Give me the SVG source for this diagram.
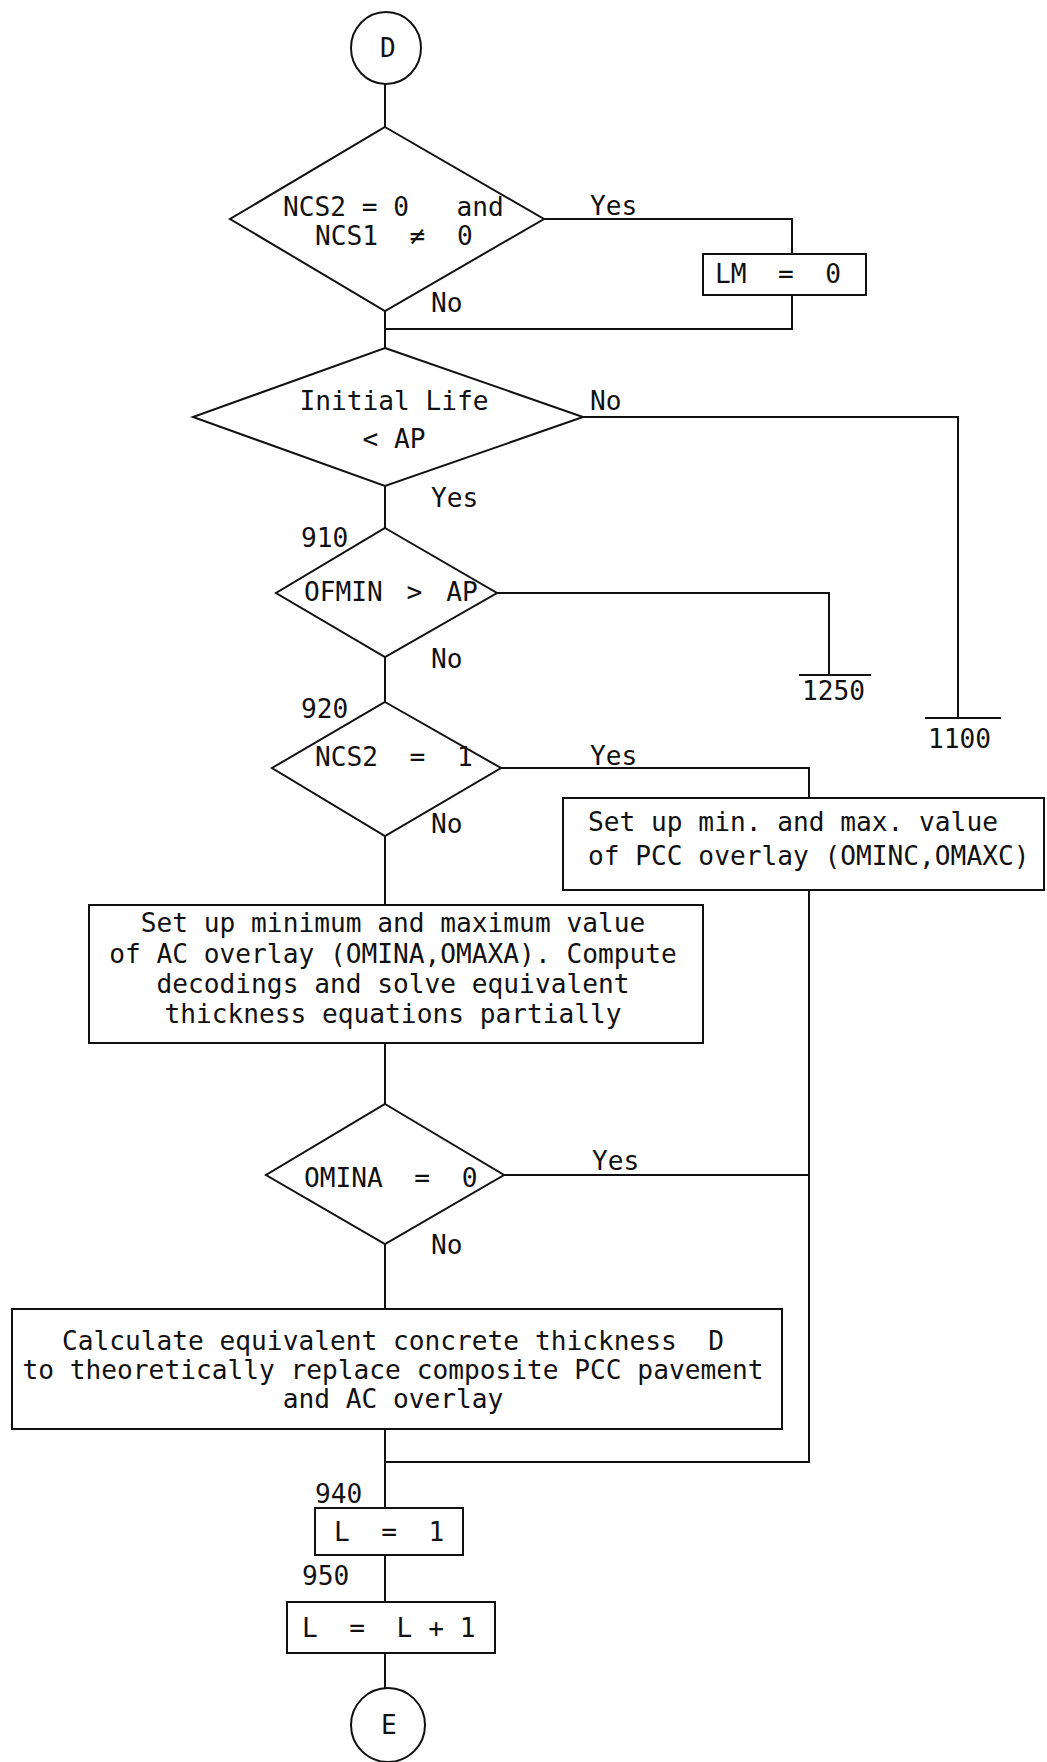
<svg xmlns="http://www.w3.org/2000/svg" width="1047" height="1762" viewBox="0 0 1047 1762">
<style>
  .s { fill: none; stroke: #111; stroke-width: 2; }
  .n { fill: #fff; stroke: #111; stroke-width: 2; }
  text { font-family: "DejaVu Sans Mono", "Liberation Mono", monospace; font-size: 26.2px; fill: #111; white-space: pre; }
  .c { text-anchor: middle; }
</style>
<rect width="1047" height="1762" fill="#fff"/>
<g id="connectors" class="s">
  <line x1="385" y1="84" x2="385" y2="127"/>
  <polyline points="544,219 792,219 792,254"/>
  <polyline points="792,295 792,329 385,329"/>
  <line x1="385" y1="311" x2="385" y2="348"/>
  <polyline points="583,417 958,417 958,718"/>
  <line x1="925" y1="718" x2="1001" y2="718"/>
  <line x1="385" y1="486" x2="385" y2="528"/>
  <polyline points="497,593 829,593 829,675"/>
  <line x1="799" y1="675" x2="871" y2="675"/>
  <line x1="385" y1="657" x2="385" y2="702"/>
  <polyline points="501,768 809,768 809,798"/>
  <polyline points="809,890 809,1462 385,1462"/>
  <line x1="504" y1="1175" x2="809" y2="1175"/>
  <line x1="385" y1="836" x2="385" y2="905"/>
  <line x1="385" y1="1043" x2="385" y2="1104"/>
  <line x1="385" y1="1244" x2="385" y2="1309"/>
  <line x1="385" y1="1429" x2="385" y2="1508"/>
  <line x1="385" y1="1555" x2="385" y2="1602"/>
  <line x1="385" y1="1653" x2="385" y2="1688"/>
</g>
<g id="labels">
  <text x="590" y="215">Yes</text>
  <text x="431" y="312">No</text>
  <text x="590" y="410">No</text>
  <text x="431" y="507">Yes</text>
  <text x="301" y="547">910</text>
  <text x="431" y="668">No</text>
  <text x="802" y="700">1250</text>
  <text x="928" y="748">1100</text>
  <text x="301" y="718">920</text>
  <text x="590" y="765">Yes</text>
  <text x="431" y="833">No</text>
  <text x="592" y="1170">Yes</text>
  <text x="431" y="1254">No</text>
  <text x="315" y="1503">940</text>
  <text x="302" y="1585">950</text>
</g>
<g id="start-D">
  <ellipse class="n" cx="386" cy="48" rx="35" ry="36"/>
  <text class="c" x="388" y="57">D</text>
</g>
<g id="dec-ncs">
  <polygon class="n" points="385,127 544,219 385,311 230,219"/>
  <text x="283" y="216">NCS2 = 0   and</text>
  <text x="315" y="245">NCS1  ≠  0</text>
</g>
<g id="box-lm">
  <rect class="n" x="703" y="254" width="163" height="41"/>
  <text x="715" y="283">LM  =  0</text>
</g>
<g id="dec-life">
  <polygon class="n" points="385,348 583,417 385,486 193,417"/>
  <text class="c" x="394" y="410">Initial Life</text>
  <text class="c" x="394" y="448">&lt; AP</text>
</g>
<g id="dec-910">
  <polygon class="n" points="385,528 497,593 385,657 276,593"/>
  <text x="304" y="601" style="word-spacing:8px">OFMIN > AP</text>
</g>
<g id="dec-920">
  <polygon class="n" points="385,702 501,768 385,836 272,768"/>
  <text x="315" y="766">NCS2  =  1</text>
</g>
<g id="box-pcc">
  <rect class="n" x="563" y="798" width="481" height="92"/>
  <text x="588" y="831">Set up min. and max. value</text>
  <text x="588" y="865">of PCC overlay (OMINC,OMAXC)</text>
</g>
<g id="box-ac">
  <rect class="n" x="89" y="905" width="614" height="138"/>
  <text class="c" x="393" y="932">Set up minimum and maximum value</text>
  <text class="c" x="393" y="963">of AC overlay (OMINA,OMAXA). Compute</text>
  <text class="c" x="393" y="993">decodings and solve equivalent</text>
  <text class="c" x="393" y="1023">thickness equations partially</text>
</g>
<g id="dec-omina">
  <polygon class="n" points="385,1104 504,1175 385,1244 266,1175"/>
  <text x="304" y="1187">OMINA  =  0</text>
</g>
<g id="box-calc">
  <rect class="n" x="12" y="1309" width="770" height="120"/>
  <text class="c" x="393" y="1350">Calculate equivalent concrete thickness  D</text>
  <text class="c" x="393" y="1379">to theoretically replace composite PCC pavement</text>
  <text class="c" x="393" y="1408">and AC overlay</text>
</g>
<g id="box-940">
  <rect class="n" x="315" y="1508" width="148" height="47"/>
  <text x="334" y="1541">L  =  1</text>
</g>
<g id="box-950">
  <rect class="n" x="287" y="1602" width="208" height="51"/>
  <text x="302" y="1637">L  =  L + 1</text>
</g>
<g id="end-E">
  <circle class="n" cx="388" cy="1725" r="37"/>
  <text class="c" x="389" y="1734">E</text>
</g>
</svg>
